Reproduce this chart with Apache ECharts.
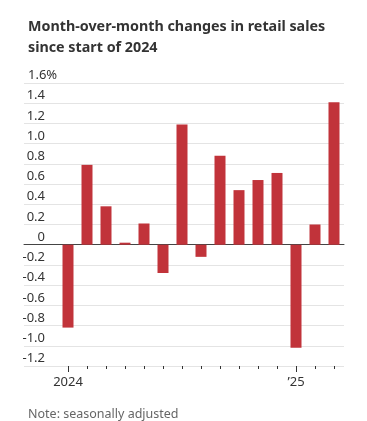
<!DOCTYPE html>
<html><head><meta charset="utf-8">
<script src="https://cdn.jsdelivr.net/npm/echarts@6/dist/echarts.min.js"></script>
<style>html,body{margin:0;padding:0;background:#fff}#c{width:367px;height:421px}</style>
</head><body><div id="c"></div>
<script>
const months = ['Jan 2024','Feb','Mar','Apr','May','Jun','Jul','Aug','Sep','Oct','Nov','Dec','Jan 2025','Feb','Mar'];
const monthLabels = ['2024','','','','','','','','','','','','\u201925','',''];
const values = [-0.82, 0.79, 0.38, 0.02, 0.21, -0.28, 1.19, -0.12, 0.88, 0.54, 0.64, 0.71, -1.02, 0.20, 1.41];
const yMin = -1.2, yMax = 1.6, yStep = 0.2;

const FONT = 'Noto Sans';
const chart = echarts.init(document.getElementById('c'), null, {renderer: 'canvas'});
const grids = [
  {left: 24, right: 23, top: 83, bottom: 55},
  {left: 58.5, right: 23.5, top: 83, bottom: 55}
];
const isTop = (v) => Math.abs(v - yMax) < 1e-9;
const fmt = (v) => {
  const r = Math.round(v * 10) / 10;
  if (Math.abs(r) < 1e-9) return '0';
  return r.toFixed(1);
};
chart.setOption({
  animation: false,
  textStyle: {fontFamily: FONT},
  title: [
    {text: 'Month-over-month changes in retail sales\nsince start of 2024', left: 23, top: 11,
     textStyle: {fontFamily: FONT, fontWeight: 'bold', fontSize: 14.3, lineHeight: 21, color: '#333'}},
    {text: 'Note: seasonally adjusted', left: 23, top: 403,
     textStyle: {fontFamily: FONT, fontWeight: 'normal', fontSize: 12.5, color: '#666'}}
  ],
  grid: grids,
  xAxis: [
    {gridIndex: 0, type: 'category', data: [''], axisLine: {show: true, onZero: true, lineStyle: {color: '#444', width: 1}},
     axisTick: {show: false}, axisLabel: {show: false}, splitLine: {show: false}},
    {gridIndex: 1, type: 'category', data: months, position: 'bottom',
     axisLine: {show: false, onZero: false},
     axisTick: {show: true, alignWithLabel: true, interval: 0, length: 3, lineStyle: {color: '#333'}},
     axisLabel: {interval: 0, margin: 10, fontSize: 13, color: '#333', formatter: (v, i) => monthLabels[i]}},
    {gridIndex: 1, type: 'category', data: months, position: 'bottom',
     axisLine: {show: false, onZero: false},
     axisTick: {show: true, alignWithLabel: true, interval: (i) => monthLabels[i] !== '', length: 6, lineStyle: {color: '#333'}},
     axisLabel: {show: false}}
  ],
  yAxis: [
    {gridIndex: 0, type: 'value', position: 'left', offset: 0, min: yMin, max: yMax, interval: yStep,
     axisLine: {show: false}, axisTick: {show: false},
     splitLine: {show: true, lineStyle: {color: '#e4e4e4', width: 1}},
     axisLabel: {inside: true, margin: 21, align: 'right', verticalAlign: 'bottom', padding: [0, 0, 1, 0],
       fontSize: 13, color: '#333',
       formatter: (v) => isTop(v) ? '' : fmt(v)}},
    {gridIndex: 0, type: 'value', position: 'left', offset: 0, min: yMin, max: yMax, interval: yStep,
     axisLine: {show: false}, axisTick: {show: false}, splitLine: {show: false},
     axisLabel: {inside: true, margin: 4, align: 'left', verticalAlign: 'bottom', padding: [0, 0, 1, 0],
       fontSize: 13, color: '#333',
       formatter: (v) => isTop(v) ? fmt(v) + '%' : ''}},
    {gridIndex: 1, type: 'value', min: yMin, max: yMax, interval: yStep, show: false, splitLine: {show: false}}
  ],
  series: [
    {type: 'bar', xAxisIndex: 1, yAxisIndex: 2, data: values, barWidth: 11,
     itemStyle: {color: '#c1333a'}}
  ]
});
</script></body></html>
